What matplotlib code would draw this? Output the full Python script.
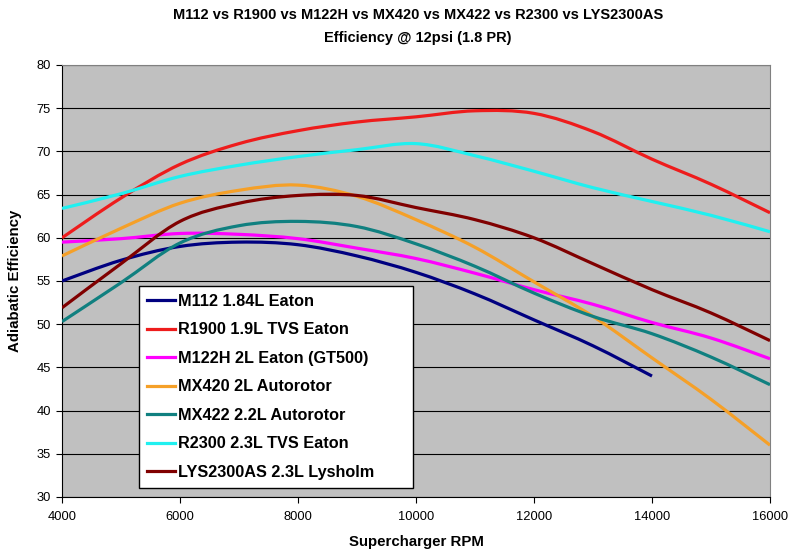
import numpy as np
import matplotlib.pyplot as plt
from matplotlib.path import Path
from matplotlib.patches import PathPatch
from matplotlib.lines import Line2D

plt.rcParams['font.family'] = ['Liberation Sans', 'DejaVu Sans']

# datos (eficiencia adiabatica, %)
rpm = [4000, 5000, 6000, 7000, 8000, 9000, 10000, 11000, 12000, 13000, 14000, 15000, 16000]
m112 = [55.0, 57.4, 59.0, 59.5, 59.2, 57.9, 56.0, 53.5, 50.5, 47.5, 44.0]
r1900 = [60.0, 64.6, 68.5, 70.9, 72.4, 73.4, 74.0, 74.7, 74.4, 72.3, 69.1, 66.2, 62.9]
m122h = [59.5, 59.9, 60.5, 60.4, 59.9, 58.8, 57.6, 55.9, 54.0, 52.3, 50.2, 48.4, 46.0]
mx420 = [57.9, 61.1, 64.0, 65.5, 66.1, 64.8, 62.1, 58.9, 54.9, 50.9, 46.1, 41.3, 36.0]
mx422 = [50.3, 54.8, 59.4, 61.4, 61.9, 61.3, 59.3, 56.7, 53.6, 50.9, 48.9, 46.2, 43.0]
r2300 = [63.4, 65.1, 67.1, 68.4, 69.4, 70.2, 70.9, 69.5, 67.7, 65.8, 64.2, 62.6, 60.7]
lys2300 = [51.9, 57.0, 61.9, 64.0, 64.9, 64.9, 63.5, 62.1, 60.0, 57.0, 54.0, 51.3, 48.1]

series = [
    ('M112 1.84L Eaton', m112, '#000080'),
    ('R1900 1.9L TVS Eaton', r1900, '#EE1C1C'),
    ('M122H 2L Eaton (GT500)', m122h, '#FF00FF'),
    ('MX420 2L Autorotor', mx420, '#F5A028'),
    ('MX422 2.2L Autorotor', mx422, '#108080'),
    ('R2300 2.3L TVS Eaton', r2300, '#20F0F0'),
    ('LYS2300AS 2.3L Lysholm', lys2300, '#800000'),
]


# linea suavizada tipo Excel (Bezier entre los puntos)
def smooth_path(xs, ys):
    pts = np.column_stack([xs, ys]).astype(float)
    n = len(pts)
    verts = [pts[0]]
    codes = [Path.MOVETO]
    for i in range(n - 1):
        p0 = pts[i - 1] if i > 0 else pts[i]
        p1 = pts[i]
        p2 = pts[i + 1]
        p3 = pts[i + 2] if i + 2 < n else pts[i + 1]
        verts += [p1 + (p2 - p0) / 6, p2 - (p3 - p1) / 6, p2]
        codes += [Path.CURVE4] * 3
    return Path(verts, codes)


fig = plt.figure(figsize=(7.98, 5.54), dpi=100)
ax = fig.add_axes([62 / 798, 57 / 554, 708 / 798, 432 / 554])
ax.set_facecolor('#C0C0C0')

ax.set_xlim(4000, 16000)
ax.set_ylim(30, 80)
ax.set_xticks(range(4000, 16001, 2000))
ax.set_yticks(range(30, 81, 5))
ax.yaxis.grid(True, color='black', linewidth=0.8)
ax.set_axisbelow(True)
ax.tick_params(direction='out', length=4, width=0.8, labelsize=9.3, colors='black')
ax.tick_params(axis='x', pad=6)
ax.tick_params(axis='y', pad=4)

for s in ['top', 'right']:
    ax.spines[s].set_color('#808080')
for s in ['left', 'bottom']:
    ax.spines[s].set_color('black')

handles = []
for label, vals, color in series:
    p = smooth_path(rpm[:len(vals)], vals)
    ax.add_patch(PathPatch(p, fill=False, edgecolor=color, linewidth=2.3, zorder=3))
    handles.append(Line2D([], [], color=color, linewidth=2.3, label=label))

leg = ax.legend(handles=handles, loc='lower left', mode='expand',
                bbox_to_anchor=(0.109, 0.021, 0.387, 0.465),
                borderaxespad=0, frameon=True, fancybox=False, framealpha=1,
                edgecolor='black', prop={'weight': 'bold', 'size': 11.7},
                handlelength=1.7, handletextpad=0.2, labelspacing=0.83,
                borderpad=0.5)
leg.get_frame().set_linewidth(1.0)
leg.set_zorder(5)

ax.set_xlabel('Supercharger RPM', fontsize=10.8, fontweight='bold', labelpad=9)
ax.set_ylabel('Adiabatic Efficiency', fontsize=10.8, fontweight='bold', labelpad=10)

fig.text(418 / 798, 1 - 19 / 554, 'M112 vs R1900 vs M122H vs MX420 vs MX422 vs R2300 vs LYS2300AS',
         ha='center', va='baseline', fontsize=10.5, fontweight='bold')
fig.text(418 / 798, 1 - 42 / 554, 'Efficiency @ 12psi (1.8 PR)',
         ha='center', va='baseline', fontsize=10.5, fontweight='bold')

fig.savefig('out.png', dpi=100)
